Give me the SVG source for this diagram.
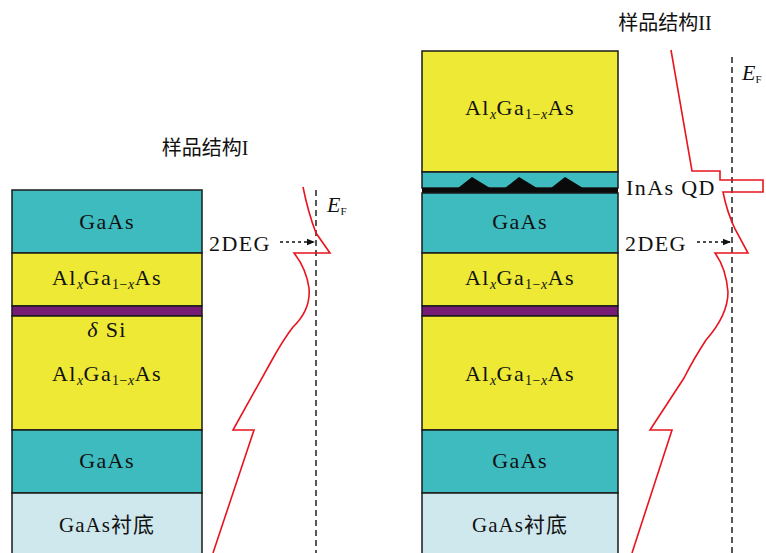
<svg xmlns="http://www.w3.org/2000/svg" width="766" height="553" viewBox="0 0 766 553">
  <style>
    .lay { stroke: #1a1a1a; stroke-width: 1.5; }
    .gaas { fill: #3dbbbf; }
    .algaas { fill: #ede935; }
    .delta { fill: #761c74; }
    .sub { fill: #cfe8ee; }
    .lbl { font-family: "Liberation Serif", "DejaVu Serif", serif; font-size: 22px; fill: #111; letter-spacing: 1.4px; }
    .mid { text-anchor: middle; }
    .s { font-size: 14px; letter-spacing: 0.5px; }
    .it { font-style: italic; }
    .cjk { font-family: "Liberation Serif", "Noto Sans CJK SC", serif; font-size: 20px; fill: #111; }
    .band { fill: none; stroke: #e8141e; stroke-width: 1.6; stroke-linejoin: miter; }
    .ef { fill: none; stroke: #111; stroke-width: 1.4; stroke-dasharray: 6 4; }
    .arr { fill: none; stroke: #111; stroke-width: 1.4; stroke-dasharray: 3 3; }
  </style>
  <defs>
    <marker id="head" viewBox="0 0 10 10" refX="10" refY="5" markerWidth="9" markerHeight="8" markerUnits="userSpaceOnUse" orient="auto">
      <path d="M0,1 L10,5 L0,9 Z" fill="#111"/>
    </marker>
  </defs>
  <rect width="766" height="553" fill="#fff"/>

  <!-- Structure I layer stack -->
  <g id="structure-1">
    <text class="cjk mid" x="205" y="155">样品结构I</text>
    <rect class="lay gaas" x="12" y="190" width="190" height="63"/>
    <rect class="lay algaas" x="12" y="253" width="190" height="53"/>
    <rect class="lay delta" x="12" y="306" width="190" height="10"/>
    <rect class="lay algaas" x="12" y="316" width="190" height="114"/>
    <rect class="lay gaas" x="12" y="430" width="190" height="63"/>
    <rect class="lay sub" x="12" y="493" width="190" height="70"/>
    <text class="lbl mid" x="107" y="229">GaAs</text>
    <text class="lbl mid" x="107" y="285">Al<tspan class="s it" dy="4">x</tspan><tspan dy="-4">Ga</tspan><tspan class="s" dy="4">1−<tspan class="it">x</tspan></tspan><tspan dy="-4">As</tspan></text>
    <text class="lbl mid" x="107" y="337"><tspan class="it">δ</tspan> Si</text>
    <text class="lbl mid" x="107" y="381">Al<tspan class="s it" dy="4">x</tspan><tspan dy="-4">Ga</tspan><tspan class="s" dy="4">1−<tspan class="it">x</tspan></tspan><tspan dy="-4">As</tspan></text>
    <text class="lbl mid" x="107" y="468">GaAs</text>
    <text class="cjk mid" x="107" y="532" style="font-size:21px;letter-spacing:1px">GaAs衬底</text>
  </g>

  <!-- Structure II layer stack -->
  <g id="structure-2">
    <text class="cjk mid" x="665" y="30">样品结构II</text>
    <rect class="lay algaas" x="422" y="51" width="196" height="121"/>
    <rect class="lay gaas" x="422" y="172" width="196" height="16"/>
    <path d="M422,188 H458 L472,177 L490,188 H505 L519,177 L537,188 H551 L565,177 L583,188 H618 V193 H422 Z" fill="#0a0a0a"/>
    <rect class="lay gaas" x="422" y="193" width="196" height="60"/>
    <rect class="lay algaas" x="422" y="253" width="196" height="53"/>
    <rect class="lay delta" x="422" y="306" width="196" height="10"/>
    <rect class="lay algaas" x="422" y="316" width="196" height="114"/>
    <rect class="lay gaas" x="422" y="430" width="196" height="63"/>
    <rect class="lay sub" x="422" y="493" width="196" height="70"/>
    <text class="lbl mid" x="520" y="115">Al<tspan class="s it" dy="4">x</tspan><tspan dy="-4">Ga</tspan><tspan class="s" dy="4">1−<tspan class="it">x</tspan></tspan><tspan dy="-4">As</tspan></text>
    <text class="lbl mid" x="520" y="229">GaAs</text>
    <text class="lbl mid" x="520" y="285">Al<tspan class="s it" dy="4">x</tspan><tspan dy="-4">Ga</tspan><tspan class="s" dy="4">1−<tspan class="it">x</tspan></tspan><tspan dy="-4">As</tspan></text>
    <text class="lbl mid" x="520" y="381">Al<tspan class="s it" dy="4">x</tspan><tspan dy="-4">Ga</tspan><tspan class="s" dy="4">1−<tspan class="it">x</tspan></tspan><tspan dy="-4">As</tspan></text>
    <text class="lbl mid" x="520" y="468">GaAs</text>
    <text class="cjk mid" x="520" y="532" style="font-size:21px;letter-spacing:1px">GaAs衬底</text>
    <text class="lbl" x="626" y="195">InAs QD</text>
  </g>

  <!-- Band profiles and Fermi levels -->
  <g id="band-1">
    <line class="ef" x1="316" y1="190" x2="316" y2="553"/>
    <path class="band" d="M303,187 Q308,212 316,233 L330,253 H294 Q306,268 309,288 Q311,310 293,327 Q283,340 272,360 L233,430 H254 L213,553"/>
    <text class="lbl" x="327" y="212" style="letter-spacing:0"><tspan class="it">E</tspan><tspan dy="3" style="font-size:11px">F</tspan></text>
    <text class="lbl" x="209" y="251">2DEG</text>
  </g>
  <g id="band-2">
    <line class="ef" x1="732" y1="57" x2="732" y2="553"/>
    <path class="band" d="M671,50 L692,171 H720 V180 H763 V192 H723 Q727,212 735,229 L748,253 H715 Q726,268 728,292 Q728,315 706,340 Q693,360 684,378 L650,430 H672 L632,553"/>
    <text class="lbl" x="742" y="80" style="letter-spacing:0"><tspan class="it">E</tspan><tspan dy="3" style="font-size:11px">F</tspan></text>
    <text class="lbl" x="625" y="251">2DEG</text>
  </g>

  <!-- 2DEG pointers -->
  <g id="connectors">
    <line class="arr" x1="280" y1="242" x2="315" y2="242" marker-end="url(#head)"/>
    <line class="arr" x1="697" y1="242" x2="731" y2="242" marker-end="url(#head)"/>
  </g>
</svg>
